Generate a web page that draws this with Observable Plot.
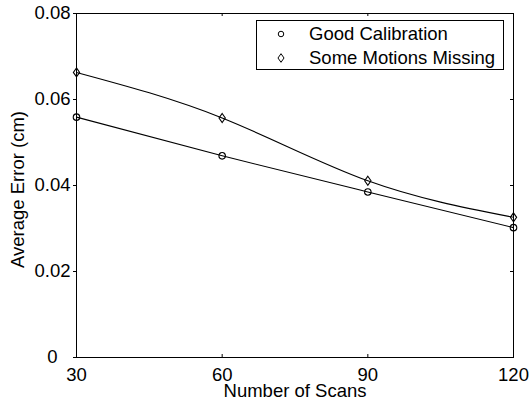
<!DOCTYPE html>
<html>
<head>
<meta charset="utf-8">
<script src="https://cdn.jsdelivr.net/npm/d3@7"></script>
<script src="https://cdn.jsdelivr.net/npm/@observablehq/plot@0.6"></script>
<style>
  body { margin: 0; background: #fff; }
  #chart { width: 529px; height: 405px; }
</style>
</head>
<body>
<div id="chart"></div>
<script>
// Average reconstruction error against number of scans
const scans = [30, 60, 90, 120];
const goodCalibration = [0.0559, 0.0469, 0.0385, 0.0302];
const motionsMissing = [0.0663, 0.0557, 0.0411, 0.0326];
const seriesNames = ["Good Calibration", "Some Motions Missing"];
const xTicks = [30, 60, 90, 120];
const yTicks = [0, 0.02, 0.04, 0.06, 0.08];
const xLabel = "Number of Scans";
const yLabel = "Average Error (cm)";

const rows = [
  ...scans.map((n, i) => ({scans: n, error: goodCalibration[i], series: seriesNames[0]})),
  ...scans.map((n, i) => ({scans: n, error: motionsMissing[i], series: seriesNames[1]}))
];

// A rhombus a little taller than wide
const tallDiamond = {
  draw(context, size) {
    const hy = Math.sqrt(size / 1.4), hx = hy * 0.7;
    context.moveTo(0, -hy);
    context.lineTo(hx, 0);
    context.lineTo(0, hy);
    context.lineTo(-hx, 0);
    context.closePath();
  }
};
const seriesSymbols = ["circle", tallDiamond];

const W = 529, H = 405;
const mL = 76, mR = 16, mT = 13, mB = 48;
const plotW = W - mL - mR, plotH = H - mT - mB;
const font = "'Liberation Sans', Arial, Helvetica, sans-serif";
const fs = 18.5;
const tick = 3;

const svg = Plot.plot({
  width: W,
  height: H,
  marginLeft: mL,
  marginRight: mR,
  marginTop: mT,
  marginBottom: mB,
  style: {fontFamily: font, fontSize: fs + "px", color: "#000", background: "#fff"},
  x: {domain: [30, 120]},
  y: {domain: [0, 0.08]},
  symbol: {domain: seriesNames, range: seriesSymbols},
  marks: [
    Plot.frame({stroke: "#000", strokeWidth: 1}),
    // inward ticks on bottom, top and right edges
    Plot.ruleX(xTicks, {x: d => d, insetTop: plotH - tick, stroke: "#000"}),
    Plot.ruleX(xTicks, {x: d => d, insetBottom: plotH - tick, stroke: "#000"}),
    Plot.ruleY(yTicks, {y: d => d, insetLeft: plotW - tick, stroke: "#000"}),
    Plot.axisY(yTicks, {
      tickSize: tick, tickPadding: 21, textAnchor: "middle", label: null, fontSize: fs,
      tickFormat: d => d === 0 ? "0" : d3.format(".2f")(d)
    }),
    Plot.axisX(xTicks, {tickSize: 0, tickPadding: 10, label: null, fontSize: fs, tickFormat: d => String(d)}),
    Plot.line(rows, {x: "scans", y: "error", z: "series", curve: "natural", stroke: "#000", strokeWidth: 1.1}),
    Plot.dot(rows, {x: "scans", y: "error", symbol: "series", r: d => d.series === seriesNames[0] ? 4.5 : 3.8, stroke: "#000", fill: "none", strokeWidth: 1.1}),
    Plot.text([yLabel], {text: d => d, frameAnchor: "left", dx: -58, dy: 4, rotate: -90, textAnchor: "middle", lineAnchor: "middle", fontSize: fs}),
    Plot.text([xLabel], {text: d => d, frameAnchor: "bottom", dy: 33.5, textAnchor: "middle", lineAnchor: "middle", fontSize: fs})
  ]
});

// Legend box in the upper right of the axes
const legend = d3.select(svg).append("g")
  .attr("font-family", font).attr("font-size", fs).attr("text-anchor", "start");
legend.append("rect")
  .attr("x", 256.5).attr("y", 20.5).attr("width", 247).attr("height", 49)
  .attr("fill", "#fff").attr("stroke", "#000").attr("stroke-width", 1);
const legendSymbols = [d3.symbolCircle, tallDiamond];
const legendSizes = [24, 26];
seriesNames.forEach((name, i) => {
  const cy = 34 + i * 24;
  legend.append("path")
    .attr("transform", `translate(281,${cy})`)
    .attr("d", d3.symbol(legendSymbols[i], legendSizes[i])())
    .attr("fill", "none").attr("stroke", "#000").attr("stroke-width", 1);
  legend.append("text")
    .attr("x", 309).attr("y", cy).attr("dy", "0.35em")
    .attr("fill", "#000").text(name);
});

document.getElementById("chart").appendChild(svg);
</script>
</body>
</html>
